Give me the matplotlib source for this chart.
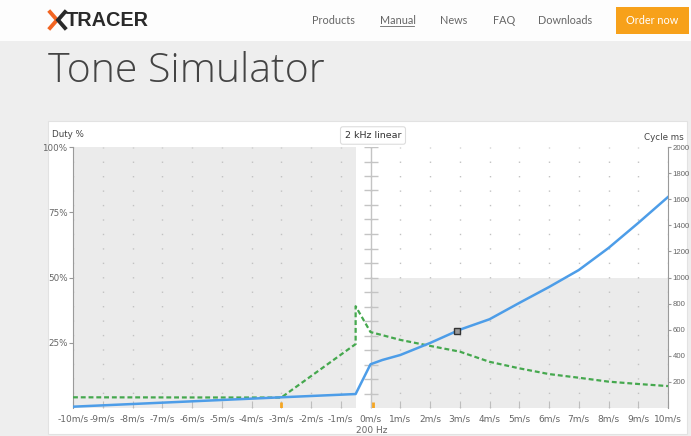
import matplotlib.pyplot as plt
import numpy as np
from matplotlib.lines import Line2D
from matplotlib.patches import Rectangle

W, H = 691, 436  # canvas in pixels

# x axis: belt speed
speed_ticks = list(range(-10, 11))
speed_labels = [f'{v}m/s' for v in speed_ticks]

# blue curve: cycle length (right axis, ms)
cycle_speed = [-10, -3, -0.5, 0, 0.4, 1, 2, 3, 4, 5, 6, 7, 8, 9, 10]
cycle_ms = [10, 82, 107, 335, 368, 406, 498, 600, 680, 805, 927, 1057, 1226, 1418, 1617]

# green dashed curve: duty (left axis, %)
duty_speed = [-10, -3, -0.5, -0.5, 0, 1, 2, 3, 4, 5, 6, 7, 8, 9, 10]
duty_pct = [4.1, 4.0, 24.5, 39.0, 29.1, 26.1, 23.8, 21.6, 17.7, 15.2, 13.0, 11.6, 10.1, 9.2, 8.4]

duty_ticks = [25, 50, 75, 100]
cycle_ticks = list(range(200, 2001, 200))
cycle_max = 2000

split_speed = -0.5      # end of the 2 kHz linear range
cycle_limit = 1000      # shaded band on the positive side
cursor_speed = 2.9
slider_marks = [-3, 0.1]

nav_items = [('Products', 312), ('Manual', 380), ('News', 440), ('FAQ', 493), ('Downloads', 538)]

GREY_TXT = '#666666'
SHADE = '#ebebeb'


def fx(x):
    return x / W


def fy(y):
    return 1 - y / H


fig = plt.figure(figsize=(W / 100, H / 100), dpi=100)
fig.patch.set_facecolor('#eeeeee')

# page header and chart panel
fig.add_artist(Rectangle((0, fy(41)), 1, 41 / H, transform=fig.transFigure,
                         facecolor='#fdfdfd', edgecolor='none', zorder=0))
fig.add_artist(Rectangle((fx(48), fy(434)), (687 - 48) / W, (434 - 121) / H,
                         transform=fig.transFigure, facecolor='white',
                         edgecolor='#e2e2e2', lw=0.8, zorder=0))

# logo
fig.add_artist(Line2D([fx(50), fx(57), fx(50)], [fy(12), fy(20), fy(28)],
                      transform=fig.transFigure, color='#f26522', lw=2.8,
                      solid_joinstyle='miter'))
fig.add_artist(Line2D([fx(65), fx(58), fx(65)], [fy(12), fy(20), fy(28)],
                      transform=fig.transFigure, color='#2a2a2a', lw=2.8,
                      solid_joinstyle='miter'))
fig.text(fx(66), fy(20), 'TRACER', fontsize=14.3, fontweight='bold', color='#2a2a2a',
         family='Liberation Sans', va='center', ha='left')

for name, x in nav_items:
    fig.text(fx(x), fy(21), name, fontsize=7.8, color=GREY_TXT, family='Lato',
             va='center', ha='left')
    if name == 'Manual':
        fig.add_artist(Line2D([fx(x), fx(x + 34)], [fy(26.5), fy(26.5)],
                              transform=fig.transFigure, color=GREY_TXT, lw=0.6))

fig.add_artist(Rectangle((fx(616), fy(34)), 73 / W, 27 / H, transform=fig.transFigure,
                         facecolor='#f7a11a', edgecolor='none'))
fig.text(fx(652.5), fy(21), 'Order now', fontsize=7.8, color='white', family='Lato',
         va='center', ha='center')

fig.text(fx(48), fy(82), 'Tone Simulator', fontsize=29.5, color='#444444', family='Open Sans',
         fontweight='light', va='baseline', ha='left')

# chart
ax = fig.add_axes([fx(73), fy(408), (668 - 73) / W, (408 - 147) / H])
ax2 = ax.twinx()
ax.set_xlim(-10, 10)
ax.set_ylim(0, 100)
ax2.set_ylim(0, cycle_max)

ax.axvspan(-10, split_speed, color=SHADE, lw=0, zorder=1)
ax.fill_between([0, 10], 0, cycle_limit / cycle_max * 100, color=SHADE, lw=0, zorder=1)

ax.set_xticks(speed_ticks)
ax.set_xticklabels(speed_labels)
ax.set_axisbelow('line')
ax.grid(axis='x', color='#c2c2c2', lw=1, linestyle=(0, (1, 9.4)))

ax.axvline(0, color='#c4c4c4', lw=1, zorder=2)
rows = np.linspace(0, cycle_max, 19)[1:]
ax2.plot(np.zeros_like(rows), rows, ls='none', marker='_', ms=9.5, mew=1,
         color='#c4c4c4', zorder=2)

ax.vlines(slider_marks, 0, 2.4, color='#f5a623', lw=2, zorder=3)

ax.plot(duty_speed, duty_pct, color='#45a84e', lw=1.6, dashes=(2.2, 1.3), zorder=4)
ax2.plot(cycle_speed, cycle_ms, color='#4d9de8', lw=1.8, zorder=4)
ax2.plot(cursor_speed, np.interp(cursor_speed, cycle_speed, cycle_ms), marker='s',
         ms=4.5, mfc='#9a9a9a', mec='#333333', mew=1, zorder=5)

ax.set_yticks(duty_ticks)
ax.set_yticklabels([f'{d}%' for d in duty_ticks])
ax2.set_yticks(cycle_ticks)
ax2.set_yticklabels([str(c) for c in cycle_ticks])

ax.tick_params(axis='x', direction='in', length=5, color='#bdbdbd', pad=5,
               labelsize=6.5, labelcolor=GREY_TXT)
ax.tick_params(axis='y', direction='out', length=3, color='#999999', pad=1,
               labelsize=6.3, labelcolor=GREY_TXT)
ax2.tick_params(axis='y', direction='out', length=2.5, color='#999999', pad=0.8,
                labelsize=5.6, labelcolor=GREY_TXT)
for lbl in ax2.get_yticklabels():
    lbl.set_family('Liberation Sans')

for a in (ax, ax2):
    for s in ('top', 'bottom'):
        a.spines[s].set_visible(False)
ax.spines['right'].set_visible(False)
ax2.spines['left'].set_visible(False)
ax.spines['left'].set_color('#9a9a9a')
ax2.spines['right'].set_color('#9a9a9a')
ax.spines['left'].set_linewidth(0.8)
ax2.spines['right'].set_linewidth(0.8)

ax.annotate('200 Hz', xy=(0, 0), xytext=(1, -16.5), textcoords='offset points',
            ha='center', va='center', fontsize=6.5, color=GREY_TXT)

fig.text(fx(52), fy(134), 'Duty %', fontsize=6.3, color='#444444', ha='left', va='center')
fig.text(fx(684), fy(137), 'Cycle ms', fontsize=6.3, color='#444444', ha='right', va='center')
fig.text(fx(373), fy(135.5), '2 kHz linear', fontsize=6.8, color='#333333', ha='center',
         va='center', bbox=dict(boxstyle='round,pad=0.45,rounding_size=0.25',
                                fc='white', ec='#dddddd', lw=0.8))

fig.savefig('out.png', dpi=100)
